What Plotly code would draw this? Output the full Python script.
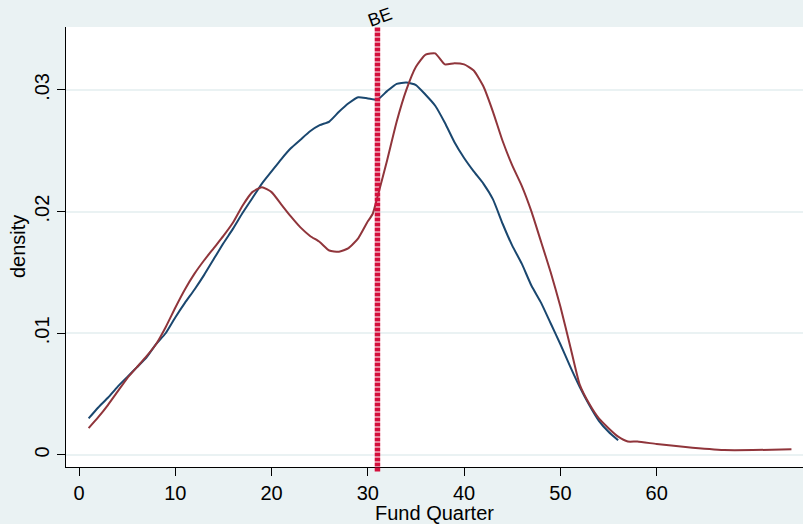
import plotly.graph_objects as go

# ---- data ----
blue_x = list(range(1, 57))
blue_y = [0.0030, 0.0039, 0.0047, 0.0056, 0.0064, 0.0072, 0.0080, 0.0091, 0.0100, 0.0113,
          0.0125, 0.0136, 0.0148, 0.0161, 0.0174, 0.0186, 0.0199, 0.0211, 0.0223, 0.0233,
          0.0243, 0.0252, 0.0259, 0.0266, 0.0271, 0.0274, 0.0282, 0.0289, 0.0294, 0.0293,
          0.0292, 0.0299, 0.0305, 0.0306, 0.0304, 0.0296, 0.0287, 0.0273, 0.0257, 0.0244,
          0.0233, 0.0223, 0.0210, 0.0190, 0.0172, 0.0157, 0.0139, 0.0125, 0.0108, 0.0091,
          0.0073, 0.0056, 0.0041, 0.0028, 0.0019, 0.0012]

red_x = [1, 2, 3, 4, 5, 6, 7, 8, 9, 10, 11, 12, 13, 14, 15, 16, 17, 18, 19, 20,
         21, 22, 23, 24, 25, 26, 27, 28, 29, 30, 30.5, 31, 32, 33, 34, 35, 36, 37, 38,
         39, 40, 41, 42, 43, 44, 45, 46, 47, 48, 49, 50, 51, 52, 53, 54, 55, 56, 57,
         58, 60, 63, 67, 70, 74]
red_y = [0.0022, 0.0031, 0.0041, 0.0052, 0.0063, 0.0072, 0.0081, 0.0091, 0.0105, 0.0121,
         0.0136, 0.0149, 0.0160, 0.0170, 0.0180, 0.0191, 0.0205, 0.0216, 0.0220, 0.0216,
         0.0206, 0.0196, 0.0187, 0.0180, 0.0175, 0.0168, 0.0167, 0.0170, 0.0178, 0.0192,
         0.0198, 0.0212, 0.0242, 0.0274, 0.0300, 0.0319, 0.0329, 0.0330, 0.0321, 0.0322,
         0.0321, 0.0316, 0.0303, 0.0282, 0.0258, 0.0238, 0.0221, 0.0200, 0.0175, 0.0150,
         0.0122, 0.0090, 0.0058, 0.0042, 0.0030, 0.0022, 0.0015, 0.0011, 0.0011, 0.0009,
         0.00065, 0.0004, 0.0004, 0.00047]

be_x = 31
be_label = "BE"
x_title = "Fund Quarter"
y_title = "density"
x_ticks = [0, 10, 20, 30, 40, 50, 60]
y_ticks = [0, 0.01, 0.02, 0.03]
y_tick_labels = ["0", ".01", ".02", ".03"]

BLUE = "#1A476F"
RED = "#90353B"
BG = "#EAF2F3"

fig = go.Figure()
fig.add_trace(go.Scatter(x=blue_x, y=blue_y, mode="lines",
                         line=dict(color=BLUE, width=2, shape="spline", smoothing=0.5),
                         showlegend=False))
fig.add_trace(go.Scatter(x=red_x, y=red_y, mode="lines",
                         line=dict(color=RED, width=2, shape="spline", smoothing=0.5),
                         showlegend=False))

fig.add_shape(type="line", xref="x", yref="paper", x0=be_x, x1=be_x, y0=-0.01, y1=1,
              line=dict(color="#D40F3C", width=5.5, dash="4px,1px"), layer="above")
fig.add_annotation(x=be_x, xref="x", y=1, yref="paper", yanchor="bottom",
                   text=be_label, showarrow=False, textangle=-20,
                   font=dict(size=18, color="black"), yshift=-6, xshift=3)

# axis titles placed as paper annotations
fig.add_annotation(x=0.5, xref="paper", y=-0.105, yref="paper", yanchor="middle",
                   text=x_title, showarrow=False, font=dict(size=20, color="black"))
fig.add_annotation(x=-0.0651, xref="paper", y=0.5, yref="paper", xanchor="center",
                   text=y_title, showarrow=False, textangle=-90,
                   font=dict(size=20, color="black"))

fig.update_layout(
    width=803, height=524,
    margin=dict(l=66, r=0, t=27, b=57),
    paper_bgcolor=BG, plot_bgcolor="white",
    font=dict(family="Liberation Sans, Arial, sans-serif", color="black"),
    xaxis=dict(range=[-1.35, 75.2], tickvals=x_ticks, ticks="outside", ticklen=8,
               tickcolor="black", showline=True, linecolor="black", linewidth=1.2,
               showgrid=False, zeroline=False, tickfont=dict(size=20), automargin=False),
    yaxis=dict(range=[-0.00099, 0.03517], tickvals=y_ticks, ticktext=y_tick_labels,
               tickangle=-90, ticks="outside", ticklen=8, tickcolor="black",
               showline=True, linecolor="black", linewidth=1.2,
               showgrid=True, gridcolor=BG, gridwidth=1.5, zeroline=False,
               tickfont=dict(size=20), automargin=False),
)

fig.write_html("out.html", config={"displayModeBar": False},
               post_script="document.body.style.margin='0px';")
